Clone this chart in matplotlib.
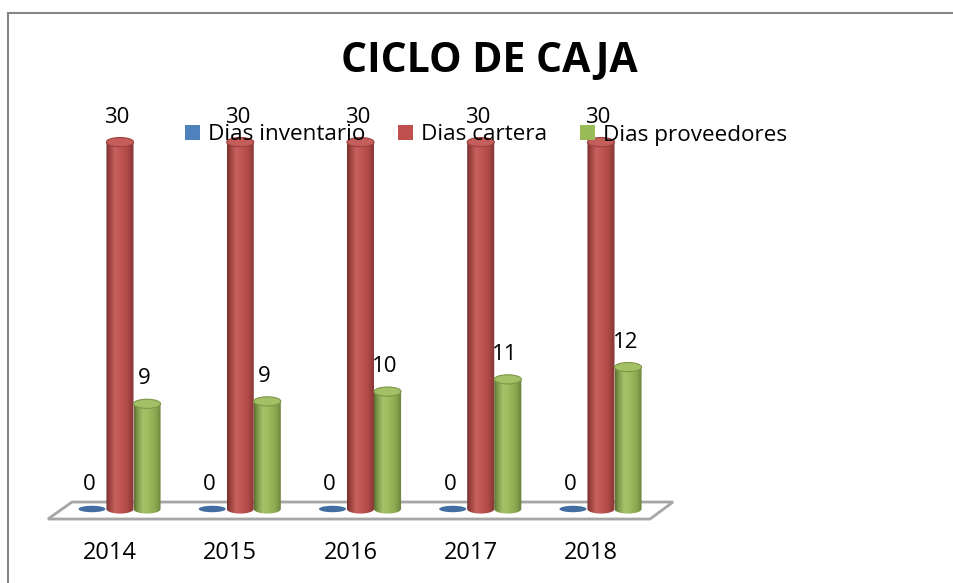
import numpy as np
import matplotlib
matplotlib.use("Agg")
import matplotlib.pyplot as plt
import matplotlib.colors as mcolors
from matplotlib.patches import Ellipse, Polygon, PathPatch, Patch
from matplotlib.path import Path
from matplotlib.lines import Line2D

# data
years = ["2014", "2015", "2016", "2017", "2018"]
dias_inventario = [0, 0, 0, 0, 0]
dias_cartera = [30, 30, 30, 30, 30]
dias_proveedores = [8.6, 8.8, 9.6, 10.6, 11.6]
series_names = ["Dias inventario", "Dias cartera", "Dias proveedores"]
title = "CICLO DE CAJA"

colors = ["#4F81BD", "#C0504D", "#9BBB59"]
offsets = [-0.15, 0.083, 0.308]
bar_w = 0.225
ell_h = 0.75

plt.rcParams["font.family"] = ["Open Sans", "DejaVu Sans"]


def shade(color, f):
    c = np.array(mcolors.to_rgb(color))
    if f < 1:
        return c * f
    return c + (1 - c) * (f - 1)


def draw_cylinder(ax, x, h, w, color, z):
    x0, x1 = x - w / 2, x + w / 2
    if h <= 0:
        ax.add_patch(Ellipse((x, 0), w, ell_h * 0.7, facecolor=shade(color, 0.85),
                             edgecolor="none", zorder=z))
        return
    # body outline: rectangle + lower half ellipse
    t = np.linspace(np.pi, 2 * np.pi, 40)
    pts = [(x0, h)]
    pts += [(x + w / 2 * np.cos(a), ell_h / 2 * np.sin(a)) for a in t]
    pts += [(x1, h), (x0, h)]
    codes = [Path.MOVETO] + [Path.LINETO] * (len(pts) - 2) + [Path.CLOSEPOLY]
    clip = PathPatch(Path(pts, codes), facecolor="none", edgecolor="none",
                     transform=ax.transData)
    ax.add_patch(clip)
    stops = [(0, 0.6), (0.12, 0.82), (0.32, 1.1), (0.5, 1.04), (0.78, 0.9), (1, 0.68)]
    cmap = mcolors.LinearSegmentedColormap.from_list(
        "cyl", [(s, shade(color, f)) for s, f in stops])
    grad = np.linspace(0, 1, 64).reshape(1, -1)
    im = ax.imshow(grad, cmap=cmap, extent=[x0, x1, -ell_h / 2, h], aspect="auto",
                   origin="lower", zorder=z, interpolation="bilinear")
    im.set_clip_path(clip)
    ax.add_patch(Ellipse((x, h), w, ell_h, facecolor=shade(color, 1.08),
                         edgecolor=shade(color, 0.8), lw=0.8, zorder=z + 0.1))


fig = plt.figure(figsize=(9.54, 5.83), dpi=100)
ax = fig.add_axes([0, 0, 1, 1])
ax.set_autoscale_on(False)
ax.set_xlim(-110 / 120.25, (954 - 110) / 120.25)
ax.set_ylim((509 - 583) / 12.23, 509 / 12.23)
ax.axis("off")

n = len(years)
# floor
floor = Polygon([(-0.516, -0.82), (-0.316, 0.57), (n - 1 + 0.682, 0.57), (n - 1 + 0.491, -0.82)],
                closed=True, facecolor="white", edgecolor="#A6A6A6", lw=2, zorder=1)
ax.add_patch(floor)

all_series = [dias_inventario, dias_cartera, dias_proveedores]
for i in range(n):
    for s, vals in enumerate(all_series):
        x = i + offsets[s]
        draw_cylinder(ax, x, vals[i], bar_w, colors[s], 2 + s)
        ax.annotate(f"{vals[i]:.0f}", (x, vals[i]), xytext=(-2, 18), textcoords="offset points",
                    ha="center", va="center", fontsize=16, color="black", zorder=10)
    ax.text(i, (509 - 553) / 12.23, years[i], ha="center", va="center", fontsize=17)

fig.text(489 / 954, 1 - 62 / 583, title, ha="center", va="center",
         fontsize=29.5, fontweight="bold")

handles = [Patch(facecolor=c, edgecolor="none") for c in colors]
leg = ax.legend(handles, series_names, ncol=3, loc="center left", frameon=False,
                bbox_to_anchor=(185 / 954, 1 - 135 / 583), bbox_transform=fig.transFigure,
                fontsize=16.2, handlelength=0.68, handleheight=0.68, handletextpad=0.35,
                columnspacing=1.45, borderpad=0, borderaxespad=0)
leg.set_zorder(20)

# chart border (left and top)
fig.add_artist(Line2D([8.5 / 954, 8.5 / 954], [0, 1 - 13 / 583], transform=fig.transFigure,
                      color="#868686", lw=1.5))
fig.add_artist(Line2D([8.5 / 954, 1], [1 - 13 / 583, 1 - 13 / 583], transform=fig.transFigure,
                      color="#868686", lw=1.5))

fig.savefig("out.png", dpi=100)
